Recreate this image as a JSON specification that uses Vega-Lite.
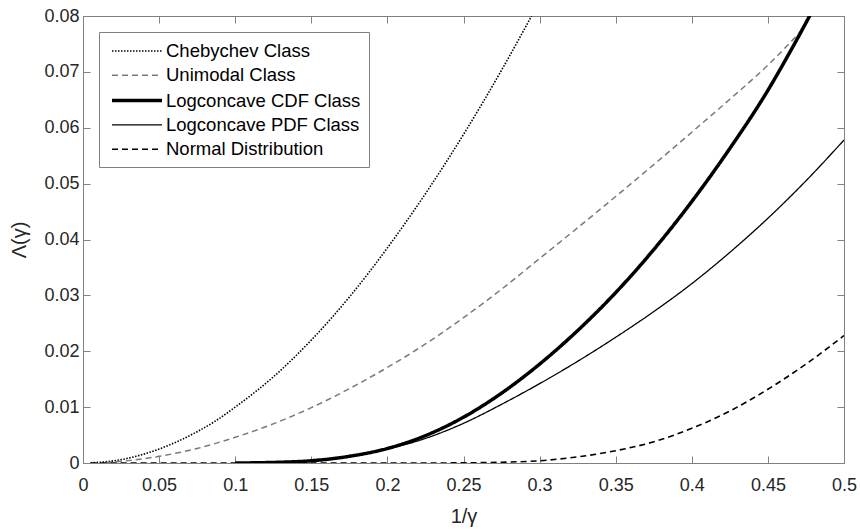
{
  "$schema": "https://vega.github.io/schema/vega-lite/v6.json",
  "width": 761,
  "height": 447,
  "autosize": "none",
  "padding": {"left": 83, "top": 16, "right": 16, "bottom": 66},
  "background": "white",
  "config": {
    "view": {"stroke": "#808080", "strokeWidth": 1},
    "font": "Liberation Sans",
    "axis": {
      "grid": false,
      "domainColor": "#808080",
      "tickColor": "#808080",
      "tickSize": -7,
      "labelColor": "#262626",
      "labelFont": "Liberation Sans",
      "labelFontSize": 18,
      "titleFont": "Liberation Sans",
      "titleFontSize": 20,
      "titleFontWeight": "normal",
      "titleColor": "#262626"
    },
    "legend": {
      "orient": "none",
      "legendX": 16,
      "legendY": 16,
      "title": null,
      "symbolType": "M-2.5,0H2.5",
      "symbolSize": 400,
      "symbolOffset": 18,
      "labelFont": "Liberation Sans",
      "labelFontSize": 18.5,
      "labelColor": "#000000",
      "labelOffset": 17,
      "rowPadding": 3.3,
      "padding": 8,
      "strokeColor": "#808080",
      "fillColor": "white",
      "labelLimit": 400
    }
  },
  "data": {"values": [
    {"s": "Chebychev Class", "x": 0.005, "y": 0.00003},
    {"s": "Chebychev Class", "x": 0.015, "y": 0.00022},
    {"s": "Chebychev Class", "x": 0.025, "y": 0.0006},
    {"s": "Chebychev Class", "x": 0.0375, "y": 0.0014},
    {"s": "Chebychev Class", "x": 0.05, "y": 0.0025},
    {"s": "Chebychev Class", "x": 0.0625, "y": 0.0039},
    {"s": "Chebychev Class", "x": 0.075, "y": 0.0056},
    {"s": "Chebychev Class", "x": 0.0875, "y": 0.0076},
    {"s": "Chebychev Class", "x": 0.1, "y": 0.0100},
    {"s": "Chebychev Class", "x": 0.125, "y": 0.0154},
    {"s": "Chebychev Class", "x": 0.15, "y": 0.0220},
    {"s": "Chebychev Class", "x": 0.175, "y": 0.0297},
    {"s": "Chebychev Class", "x": 0.2, "y": 0.0385},
    {"s": "Chebychev Class", "x": 0.225, "y": 0.0482},
    {"s": "Chebychev Class", "x": 0.25, "y": 0.0588},
    {"s": "Chebychev Class", "x": 0.275, "y": 0.0703},
    {"s": "Chebychev Class", "x": 0.2947, "y": 0.0800},

    {"s": "Unimodal Class", "x": 0.015, "y": 0.0001},
    {"s": "Unimodal Class", "x": 0.025, "y": 0.0003},
    {"s": "Unimodal Class", "x": 0.05, "y": 0.0012},
    {"s": "Unimodal Class", "x": 0.075, "y": 0.0026},
    {"s": "Unimodal Class", "x": 0.1, "y": 0.0046},
    {"s": "Unimodal Class", "x": 0.125, "y": 0.0070},
    {"s": "Unimodal Class", "x": 0.15, "y": 0.0099},
    {"s": "Unimodal Class", "x": 0.175, "y": 0.0133},
    {"s": "Unimodal Class", "x": 0.2, "y": 0.0171},
    {"s": "Unimodal Class", "x": 0.225, "y": 0.0213},
    {"s": "Unimodal Class", "x": 0.25, "y": 0.0260},
    {"s": "Unimodal Class", "x": 0.275, "y": 0.0311},
    {"s": "Unimodal Class", "x": 0.3, "y": 0.0366},
    {"s": "Unimodal Class", "x": 0.325, "y": 0.0421},
    {"s": "Unimodal Class", "x": 0.35, "y": 0.0477},
    {"s": "Unimodal Class", "x": 0.375, "y": 0.0534},
    {"s": "Unimodal Class", "x": 0.4, "y": 0.0592},
    {"s": "Unimodal Class", "x": 0.425, "y": 0.0651},
    {"s": "Unimodal Class", "x": 0.45, "y": 0.0712},
    {"s": "Unimodal Class", "x": 0.4725, "y": 0.0775},

    {"s": "Logconcave CDF Class", "x": 0.1, "y": 0.0},
    {"s": "Logconcave CDF Class", "x": 0.125, "y": 0.0001},
    {"s": "Logconcave CDF Class", "x": 0.15, "y": 0.0004},
    {"s": "Logconcave CDF Class", "x": 0.175, "y": 0.0012},
    {"s": "Logconcave CDF Class", "x": 0.2, "y": 0.0026},
    {"s": "Logconcave CDF Class", "x": 0.225, "y": 0.0049},
    {"s": "Logconcave CDF Class", "x": 0.25, "y": 0.0082},
    {"s": "Logconcave CDF Class", "x": 0.275, "y": 0.0125},
    {"s": "Logconcave CDF Class", "x": 0.3, "y": 0.0177},
    {"s": "Logconcave CDF Class", "x": 0.325, "y": 0.0237},
    {"s": "Logconcave CDF Class", "x": 0.35, "y": 0.0305},
    {"s": "Logconcave CDF Class", "x": 0.375, "y": 0.0382},
    {"s": "Logconcave CDF Class", "x": 0.4, "y": 0.0468},
    {"s": "Logconcave CDF Class", "x": 0.425, "y": 0.0563},
    {"s": "Logconcave CDF Class", "x": 0.45, "y": 0.0667},
    {"s": "Logconcave CDF Class", "x": 0.465, "y": 0.0738},
    {"s": "Logconcave CDF Class", "x": 0.478, "y": 0.0803},

    {"s": "Logconcave PDF Class", "x": 0.1, "y": 0.0},
    {"s": "Logconcave PDF Class", "x": 0.125, "y": 0.0001},
    {"s": "Logconcave PDF Class", "x": 0.15, "y": 0.0004},
    {"s": "Logconcave PDF Class", "x": 0.175, "y": 0.0012},
    {"s": "Logconcave PDF Class", "x": 0.2, "y": 0.0025},
    {"s": "Logconcave PDF Class", "x": 0.225, "y": 0.0044},
    {"s": "Logconcave PDF Class", "x": 0.25, "y": 0.0071},
    {"s": "Logconcave PDF Class", "x": 0.275, "y": 0.0105},
    {"s": "Logconcave PDF Class", "x": 0.3, "y": 0.0142},
    {"s": "Logconcave PDF Class", "x": 0.325, "y": 0.0182},
    {"s": "Logconcave PDF Class", "x": 0.35, "y": 0.0225},
    {"s": "Logconcave PDF Class", "x": 0.375, "y": 0.0271},
    {"s": "Logconcave PDF Class", "x": 0.4, "y": 0.0321},
    {"s": "Logconcave PDF Class", "x": 0.425, "y": 0.0377},
    {"s": "Logconcave PDF Class", "x": 0.45, "y": 0.0438},
    {"s": "Logconcave PDF Class", "x": 0.475, "y": 0.0505},
    {"s": "Logconcave PDF Class", "x": 0.5, "y": 0.0578},

    {"s": "Normal Distribution", "x": 0.005, "y": 0.0},
    {"s": "Normal Distribution", "x": 0.05, "y": 0.0},
    {"s": "Normal Distribution", "x": 0.1, "y": 0.0},
    {"s": "Normal Distribution", "x": 0.15, "y": 0.0},
    {"s": "Normal Distribution", "x": 0.2, "y": 0.0},
    {"s": "Normal Distribution", "x": 0.225, "y": 0.000004},
    {"s": "Normal Distribution", "x": 0.25, "y": 0.00003},
    {"s": "Normal Distribution", "x": 0.275, "y": 0.00014},
    {"s": "Normal Distribution", "x": 0.3, "y": 0.0004},
    {"s": "Normal Distribution", "x": 0.325, "y": 0.0011},
    {"s": "Normal Distribution", "x": 0.35, "y": 0.0022},
    {"s": "Normal Distribution", "x": 0.375, "y": 0.0038},
    {"s": "Normal Distribution", "x": 0.4, "y": 0.0062},
    {"s": "Normal Distribution", "x": 0.425, "y": 0.0093},
    {"s": "Normal Distribution", "x": 0.45, "y": 0.0132},
    {"s": "Normal Distribution", "x": 0.475, "y": 0.0177},
    {"s": "Normal Distribution", "x": 0.5, "y": 0.0228}
  ]},
  "encoding": {
    "x": {"field": "x", "type": "quantitative",
      "scale": {"domain": [0, 0.5], "nice": false, "zero": false}},
    "y": {"field": "y", "type": "quantitative",
      "scale": {"domain": [0, 0.08], "nice": false, "zero": false}}
  },
  "layer": [
    {
      "encoding": {
        "x": {"field": "x", "type": "quantitative",
          "axis": {"orient": "bottom", "values": [0, 0.05, 0.1, 0.15, 0.2, 0.25, 0.3, 0.35, 0.4, 0.45, 0.5], "format": "~g", "labelPadding": 20, "title": "1/γ", "titlePadding": 12, "labelFlush": false}},
        "y": {"field": "y", "type": "quantitative",
          "axis": {"orient": "left", "values": [0, 0.01, 0.02, 0.03, 0.04, 0.05, 0.06, 0.07, 0.08], "format": "~g", "labelPadding": 11, "title": "Λ(γ)", "titlePadding": 14, "labelFlush": false}},
        "color": {"field": "s", "type": "nominal", "scale": {"domain": ["Chebychev Class", "Unimodal Class", "Logconcave CDF Class", "Logconcave PDF Class", "Normal Distribution"], "range": ["#000000", "#7a7a7a", "#000000", "#000000", "#000000"]}},
        "strokeDash": {"field": "s", "type": "nominal", "scale": {"domain": ["Chebychev Class", "Unimodal Class", "Logconcave CDF Class", "Logconcave PDF Class", "Normal Distribution"], "range": [[1.5, 1.5], [6, 4], [1, 0], [1, 0], [6, 4]]}},
        "strokeWidth": {"field": "s", "type": "nominal", "scale": {"type": "ordinal", "domain": ["Chebychev Class", "Unimodal Class", "Logconcave CDF Class", "Logconcave PDF Class", "Normal Distribution"], "range": [1.6, 1.5, 3.5, 1.3, 1.6]}}
      },
      "layer": [
        {
          "transform": [{"filter": "datum.s === 'Chebychev Class'"}],
          "mark": {"type": "line", "interpolate": "monotone", "clip": true}
        },
        {
          "transform": [{"filter": "datum.s === 'Unimodal Class'"}],
          "mark": {"type": "line", "interpolate": "monotone", "clip": true}
        },
        {
          "transform": [{"filter": "datum.s === 'Normal Distribution'"}],
          "mark": {"type": "line", "interpolate": "monotone", "clip": true}
        },
        {
          "transform": [{"filter": "datum.s === 'Logconcave PDF Class'"}],
          "mark": {"type": "line", "interpolate": "monotone", "clip": true}
        },
        {
          "transform": [{"filter": "datum.s === 'Logconcave CDF Class'"}],
          "mark": {"type": "line", "interpolate": "monotone", "clip": true}
        }
      ]
    },
    {
      "mark": {"type": "point", "opacity": 0},
      "encoding": {
        "x": {"field": "x", "type": "quantitative",
          "axis": {"orient": "top", "values": [0, 0.05, 0.1, 0.15, 0.2, 0.25, 0.3, 0.35, 0.4, 0.45, 0.5], "labels": false, "title": null}},
        "y": {"field": "y", "type": "quantitative",
          "axis": {"orient": "right", "values": [0, 0.01, 0.02, 0.03, 0.04, 0.05, 0.06, 0.07, 0.08], "labels": false, "title": null}}
      }
    }
  ],
  "resolve": {"axis": {"x": "independent", "y": "independent"}}
}
